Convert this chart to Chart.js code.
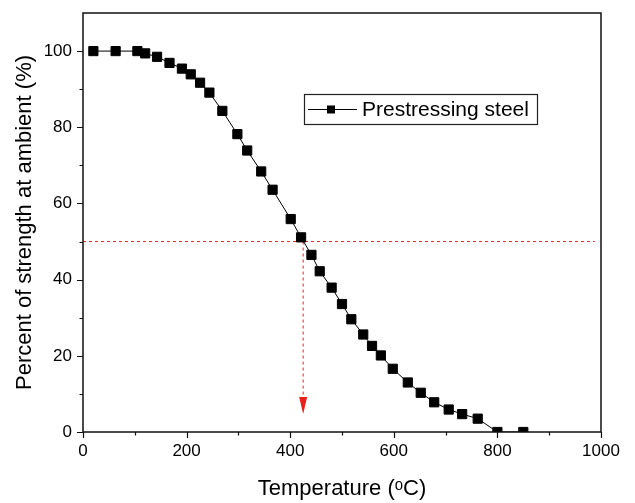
<!DOCTYPE html>
<html>
<head>
<meta charset="utf-8">
<script src="https://cdn.jsdelivr.net/npm/chart.js@4/dist/chart.umd.min.js"></script>
<style>
  html, body { margin: 0; padding: 0; background: #fff; }
  #wrap { width: 635px; height: 503px; }
</style>
</head>
<body>
<div id="wrap"><canvas id="chart" width="635" height="503"></canvas></div>
<script>
// Temperature (deg C) and remaining strength (%)
const tempC = [20, 63, 105, 120, 143, 167, 191, 208, 226, 244, 269, 298, 317, 344, 366,
               401, 421, 441, 457, 480, 500, 518, 541, 558, 575, 598, 627, 652, 678, 706,
               732, 762, 800, 850];
const strength = [100, 100, 100, 99.4, 98.5, 96.9, 95.4, 93.9, 91.7, 89.1, 84.3, 78.2, 73.9, 68.4, 63.6,
                  55.9, 51.1, 46.5, 42.2, 37.9, 33.6, 29.6, 25.6, 22.6, 20.1, 16.6, 13.0, 10.3, 7.8, 5.9,
                  4.7, 3.5, 0, 0];

// 50 % reference line and the arrow down to the temperature axis
const halfLevel = [50];
const halfLineTemp = [0, 988];
const arrowTemp = [425];
const arrowLevels = [50, 9.2, 4.7]; // start, head base, tip

const xTicks = [0, 200, 400, 600, 800, 1000];
const yTicks = [0, 20, 40, 60, 80, 100];

const FONT = "Arial, 'Liberation Sans', sans-serif";
const RED = '#e8221b';

const mainData = tempC.map((t, i) => ({ x: t, y: strength[i] }));
const halfLine = halfLineTemp.map(t => ({ x: t, y: halfLevel[0] }));
const dropLine = [{ x: arrowTemp[0], y: arrowLevels[0] }, { x: arrowTemp[0], y: arrowLevels[1] }];

// frame, ticks, arrow head and legend box
const extras = {
    id: 'extras',
    afterDatasetsDraw(chart) {
        const { ctx, chartArea: a, scales: { x, y } } = chart;
        ctx.save();

        // arrow head
        const ax = x.getPixelForValue(arrowTemp[0]);
        const yb = y.getPixelForValue(arrowLevels[1]);
        const yt = y.getPixelForValue(arrowLevels[2]);
        ctx.fillStyle = RED;
        ctx.beginPath();
        ctx.moveTo(ax - 4, yb);
        ctx.lineTo(ax + 4, yb);
        ctx.lineTo(ax, yt);
        ctx.closePath();
        ctx.fill();

        // box round the plot
        ctx.strokeStyle = '#111';
        ctx.lineWidth = 1.5;
        ctx.strokeRect(a.left, a.top, a.right - a.left, a.bottom - a.top);

        // ticks, major long and minor short
        ctx.lineWidth = 1.2;
        ctx.beginPath();
        x.ticks.forEach(t => {
            const px = Math.round(x.getPixelForValue(t.value)) + 0.5;
            const len = xTicks.includes(t.value) ? 6 : 3.5;
            ctx.moveTo(px, a.bottom);
            ctx.lineTo(px, a.bottom + len);
        });
        y.ticks.forEach(t => {
            if (t.value > 100) return;
            const py = Math.round(y.getPixelForValue(t.value)) + 0.5;
            const len = yTicks.includes(t.value) ? 6 : 3.5;
            ctx.moveTo(a.left, py);
            ctx.lineTo(a.left - len, py);
        });
        ctx.stroke();

        // legend
        const lx = a.left + 221, ly = a.top + 81, lw = 233, lh = 30;
        ctx.fillStyle = '#fff';
        ctx.fillRect(lx, ly, lw, lh);
        ctx.strokeStyle = '#222';
        ctx.lineWidth = 1.2;
        ctx.strokeRect(lx + 0.5, ly + 0.5, lw, lh);
        const my = ly + lh / 2 + 0.5;
        ctx.lineWidth = 1;
        ctx.strokeStyle = '#000';
        ctx.beginPath();
        ctx.moveTo(lx + 4, my);
        ctx.lineTo(lx + 53, my);
        ctx.stroke();
        ctx.fillStyle = '#000';
        ctx.fillRect(lx + 23, my - 4, 8, 8);
        ctx.font = '21px ' + FONT;
        ctx.textBaseline = 'middle';
        ctx.textAlign = 'left';
        ctx.fillText('Prestressing steel', lx + 58, my + 1);

        ctx.restore();
    }
};

new Chart(document.getElementById('chart'), {
    type: 'scatter',
    data: {
        datasets: [
            {
                label: 'Prestressing steel',
                data: mainData,
                showLine: true,
                borderColor: '#000',
                borderWidth: 1,
                backgroundColor: '#000',
                pointStyle: 'rect',
                pointRadius: 6.5,
                pointBorderWidth: 1,
                pointBorderColor: '#000',
                pointBackgroundColor: '#000',
                order: 0
            },
            {
                label: '50%',
                data: halfLine,
                showLine: true,
                borderColor: RED,
                borderWidth: 1,
                borderDash: [3, 3],
                pointRadius: 0,
                order: 1
            },
            {
                label: 'arrow',
                data: dropLine,
                showLine: true,
                borderColor: RED,
                borderWidth: 1,
                borderDash: [3, 3],
                pointRadius: 0,
                order: 1
            }
        ]
    },
    options: {
        responsive: false,
        animation: false,
        layout: { padding: { top: 13, right: 34, left: 0, bottom: 0 } },
        plugins: {
            legend: { display: false },
            tooltip: { enabled: false }
        },
        scales: {
            x: {
                type: 'linear',
                min: 0,
                max: 1000,
                ticks: {
                    stepSize: 100,
                    autoSkip: false,
                    maxRotation: 0,
                    padding: 9,
                    color: '#000',
                    font: { family: FONT, size: 17 },
                    callback: v => (xTicks.includes(v) ? v : '')
                },
                grid: { display: false, drawTicks: false },
                border: { display: false },
                title: {
                    display: true,
                    text: 'Temperature (ᵒC)',
                    color: '#000',
                    font: { family: FONT, size: 22 },
                    padding: { top: 4, bottom: 1 }
                },
                afterFit(scale) {
                    scale.height = 71;
                    scale.paddingLeft = 0;
                    scale.paddingRight = 0;
                }
            },
            y: {
                type: 'linear',
                min: 0,
                max: 110,
                ticks: {
                    stepSize: 10,
                    autoSkip: false,
                    padding: 11,
                    color: '#000',
                    font: { family: FONT, size: 17 },
                    callback: v => (yTicks.includes(v) ? v : '')
                },
                grid: { display: false, drawTicks: false },
                border: { display: false },
                title: {
                    display: true,
                    text: 'Percent of strength at ambient (%)',
                    color: '#000',
                    font: { family: FONT, size: 22 },
                    padding: { top: 12, bottom: 4 }
                },
                afterFit(scale) {
                    scale.width = 83;
                    scale.paddingTop = 0;
                    scale.paddingBottom = 0;
                }
            }
        }
    },
    plugins: [extras]
});
</script>
</body>
</html>
